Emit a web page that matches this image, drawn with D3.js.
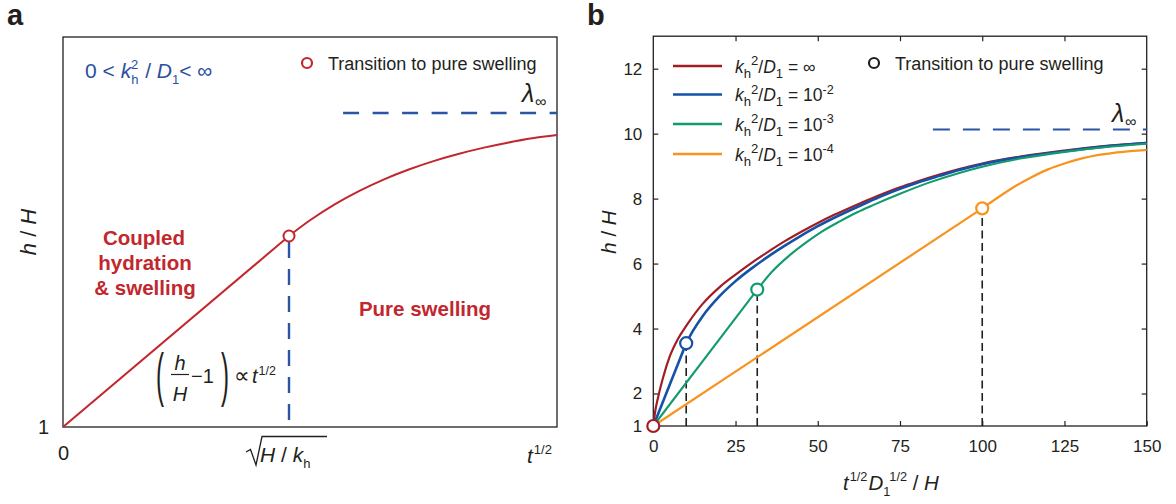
<!DOCTYPE html>
<html><head><meta charset="utf-8">
<script src="https://cdn.jsdelivr.net/npm/d3@7"></script>
<style>body{margin:0;background:#fff} svg{display:block;font-family:"Liberation Sans",Arial,Helvetica,sans-serif}</style>
</head><body><svg id="c" width="1176" height="504"></svg>
<script>
// ---------- DATA ----------
// Panel a (schematic, arbitrary units)
const aLinX = [0, 4.575];
const aLinY = [1, 2.91];
const aCurveX = [4.575, 5.0, 5.5, 6.0, 6.5, 7.0, 7.5, 8.0, 8.5, 9.0, 9.5, 10];
const aCurveY = [2.91, 3.067, 3.226, 3.361, 3.477, 3.575, 3.659, 3.730, 3.791, 3.843, 3.887, 3.92];
const aTransition = [4.575, 2.91];
const aLambda = 4.14;
const aLambdaFrom = 5.67;

// Panel b
const bXTicks = [0, 25, 50, 75, 100, 125, 150];
const bYTicks = [1, 2, 4, 6, 8, 10, 12];
const seriesNames = ["∞", "10", "10", "10"];
const seriesExp = ["", "-2", "-3", "-4"];
const seriesColors = ["#a11d24", "#1352a7", "#129b6d", "#f7931e"];
// k^2/D = inf (no linear part)
const infX = [0, 0.5, 1.5, 3, 5, 7.5, 10, 15, 20, 25, 30, 35, 40, 45, 50, 55, 60, 65, 70, 75, 80, 87, 93, 100, 112, 125, 137, 150];
const infY = [1, 1.4, 1.9, 2.5, 3.14, 3.68, 4.08, 4.76, 5.26, 5.66, 6.03, 6.37, 6.69, 6.98, 7.25, 7.5, 7.73, 7.95, 8.16, 8.35, 8.52, 8.74, 8.91, 9.08, 9.3, 9.48, 9.62, 9.72];
// k^2/D = 1e-2
const e2LinX = [0, 10], e2LinY = [1, 3.55];
const e2X = [10, 12, 15, 20, 25, 30, 35, 40, 45, 50, 55, 60, 65, 70, 75, 80, 87, 93, 100, 112, 125, 137, 150];
const e2Y = [3.55, 3.92, 4.38, 4.98, 5.46, 5.86, 6.22, 6.55, 6.86, 7.15, 7.41, 7.65, 7.88, 8.1, 8.3, 8.48, 8.7, 8.88, 9.06, 9.28, 9.46, 9.6, 9.71];
// k^2/D = 1e-3
const e3LinX = [0, 31.6], e3LinY = [1, 5.2];
const e3X = [31.6, 36, 41.5, 46.6, 51, 56.7, 62, 66.8, 75, 84, 92, 100, 112, 125, 137, 150];
const e3Y = [5.2, 5.74, 6.26, 6.66, 6.97, 7.3, 7.58, 7.8, 8.15, 8.5, 8.76, 8.98, 9.24, 9.44, 9.58, 9.69];
// k^2/D = 1e-4
const e4LinX = [0, 100], e4LinY = [1, 7.7];
const e4X = [100, 105, 110, 115, 120, 125, 130, 135, 140, 145, 150];
const e4Y = [7.7, 8.05, 8.38, 8.66, 8.9, 9.08, 9.23, 9.34, 9.41, 9.46, 9.5];
// transition points
const transX = [0, 10, 31.6, 100];
const transY = [1, 3.55, 5.2, 7.7];
const bLambda = 10.13;
const bLambdaFrom = 85;

// ---------- HELPERS ----------
const svg = d3.select("#c");
const INK = "#231f20";
svg.append("rect").attr("width", 1176).attr("height", 504).attr("fill", "#fff");
const zip = (xs, ys) => xs.map((x, i) => [x, ys[i]]);

function rich(sel, x, y, size, parts, fill) {
  const t = sel.append("text").attr("x", x).attr("y", y).attr("font-size", size).attr("fill", fill || INK);
  let cur = 0;
  parts.forEach(p => {
    const s = p.sub ? size * 0.3 : p.sup ? -size * 0.42 : 0;
    const fs = (p.sub || p.sup) ? size * (p.scale || 0.65) : size;
    const ts = t.append("tspan").attr("dy", s - cur).attr("font-size", fs).text(p.t);
    if (p.i) ts.attr("font-style", "italic");
    if (p.dx != null) ts.attr("dx", p.dx);
    if (p.x != null) ts.attr("x", p.x);
    cur = s;
  });
  return t;
}

// ---------- PANEL A ----------
const xA = d3.scaleLinear().domain([0, 10]).range([63, 557]);
const yA = d3.scaleLinear().domain([1, 4.9]).range([427, 37]);
const gA = svg.append("g");
const lineA = d3.line().x(d => xA(d[0])).y(d => yA(d[1]));

gA.append("rect").attr("x", xA(0)).attr("y", yA(4.9)).attr("width", xA(10) - xA(0)).attr("height", yA(1) - yA(4.9))
  .attr("fill", "none").attr("stroke", INK).attr("stroke-width", 1.3);

const axA_y = gA.append("g").attr("transform", `translate(${xA(0)},0)`)
  .call(d3.axisLeft(yA).tickValues([1]).tickSize(0).tickPadding(14).tickFormat(d3.format("d")));
const axA_x = gA.append("g").attr("transform", `translate(0,${yA(1)})`)
  .call(d3.axisBottom(xA).tickValues([0]).tickSize(0).tickPadding(19).tickFormat(d3.format("d")));
[axA_y, axA_x].forEach(a => { a.select(".domain").remove(); a.selectAll("text").attr("font-size", 20).attr("fill", INK).attr("font-family", null); });

// dashed lines
gA.append("line").attr("x1", xA(aTransition[0])).attr("x2", xA(aTransition[0]))
  .attr("y1", yA(aTransition[1]) + 6).attr("y2", yA(1))
  .attr("stroke", "#2a55a5").attr("stroke-width", 2.4).attr("stroke-dasharray", "16,11");
gA.append("line").attr("x1", xA(aLambdaFrom)).attr("x2", xA(10)).attr("y1", yA(aLambda)).attr("y2", yA(aLambda))
  .attr("stroke", "#2a55a5").attr("stroke-width", 2.4).attr("stroke-dasharray", "16,13.5");

// curve
gA.append("path").attr("d", lineA(zip(aLinX, aLinY))).attr("fill", "none").attr("stroke", "#c1272d").attr("stroke-width", 2);
gA.append("path").attr("d", d3.line().x(d => xA(d[0])).y(d => yA(d[1])).curve(d3.curveMonotoneX)(zip(aCurveX, aCurveY)))
  .attr("fill", "none").attr("stroke", "#c1272d").attr("stroke-width", 2);
gA.append("circle").attr("cx", xA(aTransition[0])).attr("cy", yA(aTransition[1])).attr("r", 5.5)
  .attr("fill", "#fff").attr("stroke", "#c1272d").attr("stroke-width", 2);

// legend a
gA.append("circle").attr("cx", 307).attr("cy", 63).attr("r", 5).attr("fill", "#fff").attr("stroke", "#c1272d").attr("stroke-width", 2.2);
gA.append("text").attr("x", 328).attr("y", 69.5).attr("font-size", 18).attr("fill", INK).text("Transition to pure swelling");

// blue condition text
rich(gA, 85, 78, 21, [
  { t: "0 < " }, { t: "k", i: 1 }, { t: "h", sub: 1, scale: 0.62 }, { t: "2", sup: 1, scale: 0.62, dx: -7.3 },
  { t: " / ", dx: 1 }, { t: "D", i: 1 }, { t: "1", sub: 1, scale: 0.62 }, { t: "< ∞" }
], "#2a4f9f");

// lambda
gA.append("text").attr("x", 522).attr("y", 102).attr("font-size", 25).attr("font-style", "italic").attr("fill", INK).text("λ");
gA.append("text").attr("x", 535).attr("y", 107).attr("font-size", 16).attr("fill", INK).text("∞");

// bold red labels
const bold = gA.append("text").attr("font-size", 20.5).attr("font-weight", "bold").attr("fill", "#c1272d").attr("text-anchor", "middle");
bold.append("tspan").attr("x", 144).attr("y", 245).text("Coupled");
bold.append("tspan").attr("x", 145).attr("y", 270).text("hydration");
bold.append("tspan").attr("x", 145).attr("y", 294.5).text("& swelling");
gA.append("text").attr("x", 425).attr("y", 316).attr("font-size", 20.5).attr("font-weight", "bold").attr("fill", "#c1272d")
  .attr("text-anchor", "middle").text("Pure swelling");

// formula (h/H - 1) ∝ t^1/2
gA.append("text").attr("x", 156).attr("y", 0).attr("font-size", 24).attr("fill", INK)
  .attr("transform", "translate(0,395) scale(1,2.45)").text("(");
gA.append("text").attr("x", 221).attr("y", 0).attr("font-size", 24).attr("fill", INK)
  .attr("transform", "translate(0,395) scale(1,2.45)").text(")");
gA.append("text").attr("x", 180).attr("y", 370).attr("font-size", 20).attr("font-style", "italic").attr("text-anchor", "middle").attr("fill", INK).text("h");
gA.append("line").attr("x1", 171).attr("x2", 189).attr("y1", 374.5).attr("y2", 374.5).attr("stroke", INK).attr("stroke-width", 1.2);
gA.append("text").attr("x", 180).attr("y", 401).attr("font-size", 20).attr("font-style", "italic").attr("text-anchor", "middle").attr("fill", INK).text("H");
gA.append("text").attr("x", 191).attr("y", 383).attr("font-size", 20).attr("fill", INK).text("−1");
gA.append("text").attr("x", 234).attr("y", 383).attr("font-size", 22).attr("fill", INK).text("∝");
rich(gA, 252, 383, 20, [{ t: "t", i: 1 }, { t: "1/2", sup: 1, scale: 0.62, dx: 1 }]);

// sqrt(H / k_h)
gA.append("path").attr("d", "M246,452 L250.5,449.5 L256,465 L262,436.5 L327,436.5").attr("fill", "none").attr("stroke", INK).attr("stroke-width", 1.3);
rich(gA, 260, 462, 21, [{ t: "H", i: 1 }, { t: " / " }, { t: "k", i: 1 }, { t: "h", sub: 1, scale: 0.62 }]);
rich(gA, 527, 463, 21, [{ t: "t", i: 1 }, { t: "1/2", sup: 1, scale: 0.62, dx: 1 }]);

// y label a
const yla = gA.append("text").attr("transform", "translate(36,232) rotate(-90)").attr("text-anchor", "middle").attr("font-size", 22).attr("fill", INK);
yla.append("tspan").attr("font-style", "italic").text("h");
yla.append("tspan").text(" / ");
yla.append("tspan").attr("font-style", "italic").text("H");

// ---------- PANEL B ----------
const xB = d3.scaleLinear().domain([0, 150]).range([653.3, 1146.7]);
const yB = d3.scaleLinear().domain([1, 13]).range([426, 36.2]);
const gB = svg.append("g");

function styleAxis(a, labels) {
  a.select(".domain").remove();
  a.selectAll("line").attr("stroke", INK).attr("stroke-width", 1.2);
  a.selectAll("text").attr("font-size", 17).attr("fill", INK).attr("font-family", null);
  if (!labels) a.selectAll("text").remove();
}
styleAxis(gB.append("g").attr("transform", `translate(0,${yB(1)})`)
  .call(d3.axisBottom(xB).tickValues(bXTicks).tickSizeInner(-5).tickSizeOuter(0).tickPadding(14).tickFormat(d3.format("d"))), true);
styleAxis(gB.append("g").attr("transform", `translate(${xB(0)},0)`)
  .call(d3.axisLeft(yB).tickValues(bYTicks).tickSizeInner(-5).tickSizeOuter(0).tickPadding(11).tickFormat(d3.format("d"))), true);
styleAxis(gB.append("g").attr("transform", `translate(0,${yB(13)})`)
  .call(d3.axisTop(xB).tickValues(bXTicks.slice(1, -1)).tickSizeInner(-5).tickSizeOuter(0)), false);
styleAxis(gB.append("g").attr("transform", `translate(${xB(150)},0)`)
  .call(d3.axisRight(yB).tickValues(bYTicks.slice(1)).tickSizeInner(-5).tickSizeOuter(0)), false);

gB.append("rect").attr("x", xB(0)).attr("y", yB(13)).attr("width", xB(150) - xB(0)).attr("height", yB(1) - yB(13))
  .attr("fill", "none").attr("stroke", INK).attr("stroke-width", 1.3);

// lambda dashed
gB.append("line").attr("x1", xB(bLambdaFrom)).attr("x2", xB(150)).attr("y1", yB(bLambda)).attr("y2", yB(bLambda))
  .attr("stroke", "#2a55a5").attr("stroke-width", 2.1).attr("stroke-dasharray", "17,13");
gB.append("text").attr("x", 1112).attr("y", 122).attr("font-size", 25).attr("font-style", "italic").attr("fill", INK).text("λ");
gB.append("text").attr("x", 1125).attr("y", 127).attr("font-size", 16).attr("fill", INK).text("∞");

// vertical dashed lines
transX.slice(1).forEach((x, i) => {
  gB.append("line").attr("x1", xB(x)).attr("x2", xB(x)).attr("y1", yB(1)).attr("y2", yB(transY[i + 1]) + 6)
    .attr("stroke", INK).attr("stroke-width", 1.6).attr("stroke-dasharray", "8,4.5");
});

const lineB = d3.line().x(d => xB(d[0])).y(d => yB(d[1]));
const curveB = d3.line().x(d => xB(d[0])).y(d => yB(d[1])).curve(d3.curveMonotoneX);
const widths = [2.2, 2.6, 2.1, 2.2];
const series = [
  { lin: null, cur: zip(infX, infY) },
  { lin: zip(e2LinX, e2LinY), cur: zip(e2X, e2Y) },
  { lin: zip(e3LinX, e3LinY), cur: zip(e3X, e3Y) },
  { lin: zip(e4LinX, e4LinY), cur: zip(e4X, e4Y) }
];
series.forEach((s, i) => {
  if (s.lin) gB.append("path").attr("d", lineB(s.lin)).attr("fill", "none").attr("stroke", seriesColors[i]).attr("stroke-width", widths[i]);
  gB.append("path").attr("d", curveB(s.cur)).attr("fill", "none").attr("stroke", seriesColors[i]).attr("stroke-width", widths[i]);
});
[1, 2, 3, 0].forEach(i => {
  gB.append("circle").attr("cx", xB(transX[i])).attr("cy", yB(transY[i])).attr("r", 6)
    .attr("fill", "#fff").attr("stroke", seriesColors[i]).attr("stroke-width", 2.2);
});

// legend b
const legY = [66, 94.5, 124, 154];
seriesNames.forEach((n, i) => {
  gB.append("line").attr("x1", 673).attr("x2", 722).attr("y1", legY[i]).attr("y2", legY[i])
    .attr("stroke", seriesColors[i]).attr("stroke-width", 2.6);
  const parts = [{ t: "k", i: 1 }, { t: "h", sub: 1, scale: 0.75 }, { t: "2", sup: 1, scale: 0.75 }, { t: "/" },
    { t: "D", i: 1 }, { t: "1", sub: 1, scale: 0.75 }, { t: " = " + n }];
  if (seriesExp[i]) parts.push({ t: seriesExp[i], sup: 1, scale: 0.72 });
  rich(gB, 735, legY[i] + 6.5, 17.5, parts);
});
gB.append("circle").attr("cx", 874).attr("cy", 63).attr("r", 5).attr("fill", "#fff").attr("stroke", INK).attr("stroke-width", 2.2);
gB.append("text").attr("x", 895).attr("y", 69.5).attr("font-size", 18).attr("fill", INK).text("Transition to pure swelling");

// axis labels b
const ylb = gB.append("text").attr("transform", "translate(616,232) rotate(-90)").attr("text-anchor", "middle").attr("font-size", 20.5).attr("fill", INK);
ylb.append("tspan").attr("font-style", "italic").text("h");
ylb.append("tspan").text(" / ");
ylb.append("tspan").attr("font-style", "italic").text("H");
rich(gB, 843, 490, 20.5, [{ t: "t", i: 1 }, { t: "1/2", sup: 1, scale: 0.62, dx: 1 }, { t: "D", i: 1, dx: 1 },
  { t: "1", sub: 1, scale: 0.62 }, { t: "1/2", sup: 1, scale: 0.62 }, { t: " / " }, { t: "H", i: 1 }]);

// panel letters
svg.append("text").attr("x", 7).attr("y", 25).attr("font-size", 29).attr("font-weight", "bold").attr("fill", INK).text("a");
svg.append("text").attr("x", 587).attr("y", 25).attr("font-size", 29).attr("font-weight", "bold").attr("fill", INK).text("b");
</script></body></html>
